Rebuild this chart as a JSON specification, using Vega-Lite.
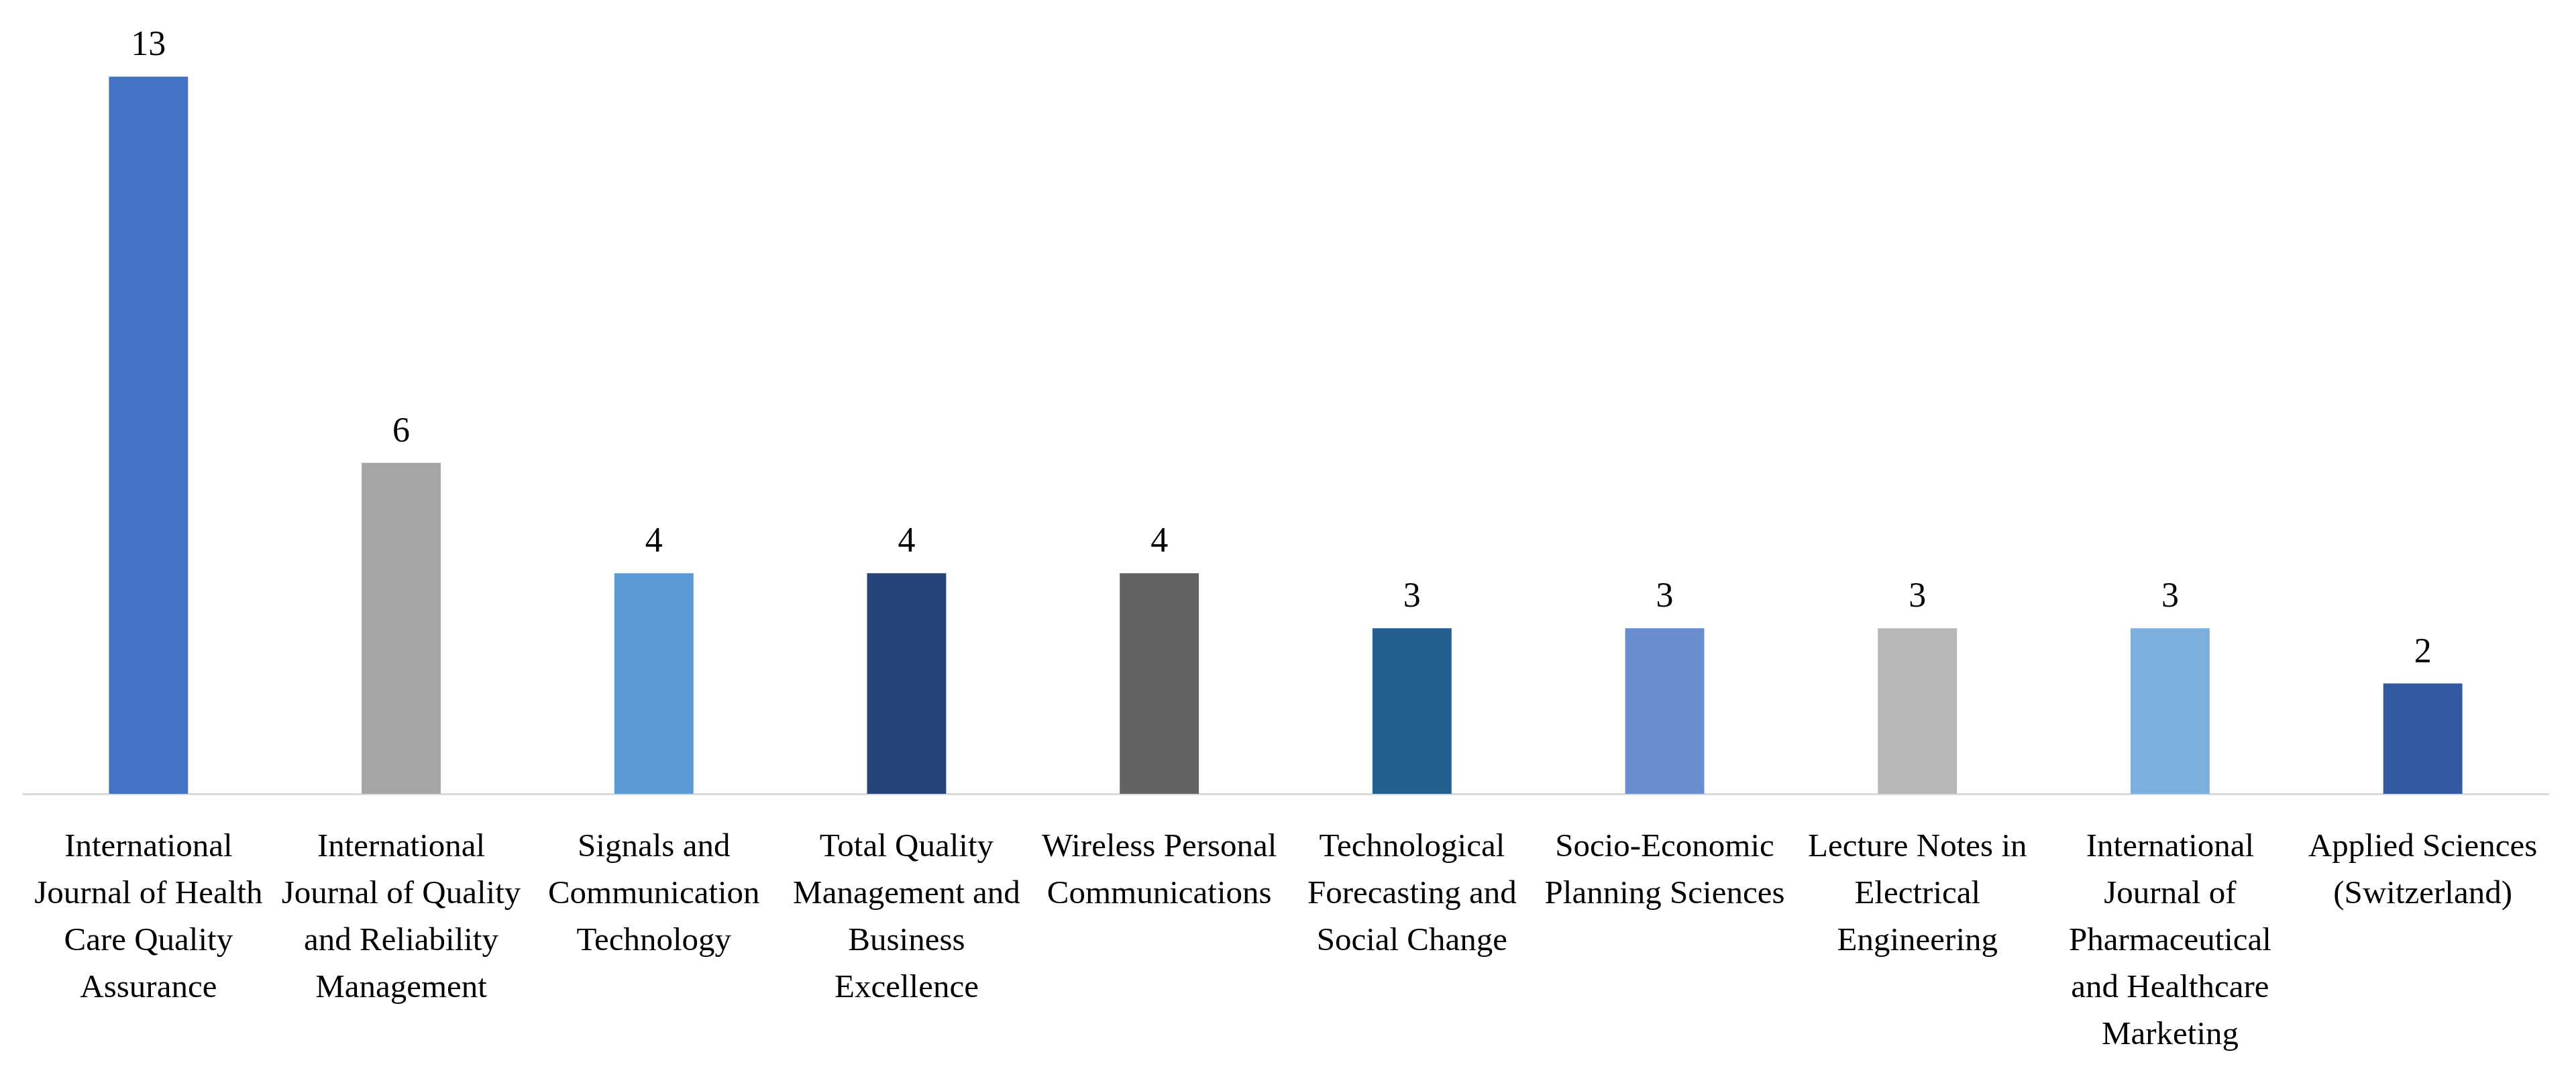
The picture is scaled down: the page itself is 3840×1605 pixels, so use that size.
{
  "$schema": "https://vega.github.io/schema/vega-lite/v6.json",
  "autosize": "none",
  "width": 3767,
  "height": 1151,
  "padding": {"left": 33, "top": 32, "right": 40, "bottom": 422},
  "background": "white",
  "config": {"view": {"stroke": null}, "font": "Liberation Serif"},
  "data": {
    "values": [
      {"journal": "International\nJournal of Health\nCare Quality\nAssurance", "count": 13},
      {"journal": "International\nJournal of Quality\nand Reliability\nManagement", "count": 6},
      {"journal": "Signals and\nCommunication\nTechnology", "count": 4},
      {"journal": "Total Quality\nManagement and\nBusiness\nExcellence", "count": 4},
      {"journal": "Wireless Personal\nCommunications", "count": 4},
      {"journal": "Technological\nForecasting and\nSocial Change", "count": 3},
      {"journal": "Socio-Economic\nPlanning Sciences", "count": 3},
      {"journal": "Lecture Notes in\nElectrical\nEngineering", "count": 3},
      {"journal": "International\nJournal of\nPharmaceutical\nand Healthcare\nMarketing", "count": 3},
      {"journal": "Applied Sciences\n(Switzerland)", "count": 2}
    ]
  },
  "encoding": {
    "x": {
      "field": "journal",
      "type": "nominal",
      "sort": null,
      "scale": {"paddingInner": 0.687, "paddingOuter": 0.3435},
      "axis": {
        "title": null,
        "labelAngle": 0,
        "labelExpr": "split(datum.value, '\\n')",
        "labelFont": "Liberation Serif",
        "labelFontSize": 49,
        "labelLineHeight": 70,
        "labelColor": "#000000",
        "labelBaseline": "top",
        "labelPadding": 53,
        "labelLimit": 0,
        "labelOverlap": false,
        "ticks": false,
        "domainColor": "#D9D9D9",
        "domainWidth": 3,
        "grid": false
      }
    },
    "y": {
      "field": "count",
      "type": "quantitative",
      "scale": {"domain": [0, 14], "nice": false},
      "axis": null
    }
  },
  "layer": [
    {
      "mark": {"type": "bar"},
      "encoding": {
        "color": {
          "field": "journal",
          "type": "nominal",
          "sort": null,
          "legend": null,
          "scale": {"range": ["#4472C4", "#A5A5A5", "#5B9BD5", "#264478", "#636363", "#255E91", "#698ED0", "#B7B7B7", "#7CAFDD", "#335AA1"]}
        }
      }
    },
    {
      "mark": {"type": "text", "baseline": "alphabetic", "align": "center", "dy": -32, "font": "Liberation Serif", "fontSize": 52, "color": "#000000"},
      "encoding": {"text": {"field": "count", "type": "quantitative"}}
    }
  ]
}
